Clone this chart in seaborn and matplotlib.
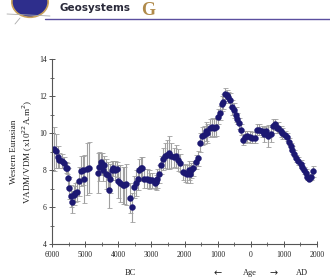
import matplotlib
matplotlib.use("Agg")
import matplotlib.pyplot as plt
from matplotlib.ticker import MultipleLocator, FuncFormatter
from matplotlib.patches import Circle
import seaborn as sns
import pandas as pd

# Age (negative = BC) and field intensity
age = [-5960, -5900, -5840, -5790, -5720, -5660, -5600, -5560, -5530, -5480,
       -5440, -5400, -5350, -5300, -5250, -5200, -5130, -5080, -5030, -4960,
       -4900, -4620, -4580, -4540, -4500, -4480, -4430, -4380, -4330, -4300,
       -4270, -4200, -4150, -4100, -4050, -4000, -3950, -3870, -3820, -3760,
       -3640, -3580, -3520, -3470, -3420, -3380, -3330, -3280, -3230, -3150,
       -3080, -3030, -2970, -2900, -2870, -2820, -2780, -2720, -2650, -2590,
       -2530, -2470, -2400, -2330, -2270, -2200, -2140, -2060, -2000, -1940,
       -1880, -1840, -1790, -1740, -1660, -1590, -1540, -1480, -1410, -1360,
       -1310, -1240, -1180, -1110, -1040, -990, -930, -880, -830, -780,
       -730, -680, -630, -570, -510, -450, -400, -340, -280, -230,
       -180, -100, -20, 50, 120, 190, 260, 330, 390, 460,
       530, 610, 680, 730, 790, 840, 910, 960, 1030, 1090,
       1160, 1210, 1260, 1310, 1380, 1440, 1510, 1560, 1610, 1660,
       1710, 1760, 1810, 1880]
vadm = [9.15, 9.05, 8.7, 8.55, 8.5, 8.4, 8.15, 8.1, 7.6, 7.05,
        6.6, 6.3, 6.65, 6.8, 6.85, 7.4, 7.95, 8.0, 7.55, 8.05,
        8.15, 7.85, 8.2, 8.45, 8.35, 8.0, 8.3, 7.8, 7.75, 6.95,
        7.55, 8.0, 8.1, 8.0, 8.05, 7.4, 7.3, 7.2, 7.2, 7.25,
        6.5, 6.0, 7.1, 7.3, 7.55, 8.0, 8.1, 8.1, 7.55, 7.55,
        7.5, 7.45, 7.45, 7.3, 7.35, 7.55, 7.8, 8.3, 8.6, 8.8,
        8.85, 8.95, 8.8, 8.7, 8.75, 8.55, 8.4, 7.9, 7.85, 7.8,
        8.0, 7.8, 8.0, 8.1, 8.45, 8.65, 9.5, 9.85, 9.9, 10.1,
        10.0, 10.3, 10.35, 10.3, 10.35, 10.9, 11.1, 11.6, 11.7, 12.15,
        12.05, 11.95, 11.8, 11.4, 11.25, 11.0, 10.8, 10.55, 10.2, 9.65,
        9.8, 9.85, 9.8, 9.75, 9.75, 10.2, 10.2, 10.1, 9.95, 10.1,
        9.85, 9.95, 10.4, 10.5, 10.3, 10.3, 10.1, 10.0, 9.9, 9.8,
        9.55, 9.3, 9.1, 8.9, 8.65, 8.5, 8.35, 8.2, 8.0, 7.85,
        7.65, 7.55, 7.65, 7.95]
err = [1.2, 0.9, 0.6, 0.4, 0.4, 0.3, 0.3, 0.3, 0.5, 0.6,
       0.6, 0.6, 0.5, 0.5, 0.5, 0.8, 0.8, 0.8, 1.3, 1.4,
       1.4, 1.1, 0.8, 0.5, 0.6, 0.6, 0.5, 0.8, 0.7, 1.0,
       0.8, 0.5, 0.4, 0.5, 0.4, 0.9, 1.0, 1.0, 1.0, 1.1,
       0.8, 0.8, 0.6, 0.7, 0.6, 0.6, 0.6, 0.6, 0.5, 0.5,
       0.5, 0.4, 0.4, 0.3, 0.4, 0.5, 0.5, 0.5, 0.6, 0.7,
       0.8, 0.9, 0.7, 0.5, 0.6, 0.6, 0.5, 0.4, 0.5, 0.5,
       0.5, 0.5, 0.4, 0.4, 0.4, 0.4, 0.5, 0.5, 0.5, 0.5,
       0.5, 0.5, 0.5, 0.5, 0.5, 0.4, 0.4, 0.4, 0.4, 0.3,
       0.3, 0.3, 0.4, 0.4, 0.4, 0.4, 0.3, 0.3, 0.3, 0.3,
       0.3, 0.3, 0.3, 0.3, 0.3, 0.3, 0.3, 0.3, 0.4, 0.3,
       0.6, 0.4, 0.4, 0.3, 0.3, 0.3, 0.3, 0.3, 0.2, 0.2,
       0.2, 0.2, 0.2, 0.2, 0.2, 0.2, 0.2, 0.2, 0.2, 0.2,
       0.15, 0.15, 0.15, 0.3]

df = pd.DataFrame({"age": age, "vadm": vadm, "err": err})

sns.set_theme(style="ticks")
plt.rcParams["font.family"] = ["Liberation Serif", "DejaVu Serif"]

fig = plt.figure(figsize=(3.3, 2.78), dpi=100)
ax = fig.add_axes([0.1585, 0.1212, 0.8015, 0.6655])

ax.errorbar(df["age"], df["vadm"], yerr=df["err"], fmt="none",
            ecolor="#a0a0a0", elinewidth=0.8, capsize=1.8, capthick=0.6, zorder=1)
sns.scatterplot(data=df, x="age", y="vadm", ax=ax, color="#1c1872",
                s=18, edgecolor="#1c1872", linewidth=0.3, zorder=2, legend=False)

ax.set_xlim(-6000, 2000)
ax.set_ylim(4, 14)
ax.xaxis.set_major_locator(MultipleLocator(1000))
ax.xaxis.set_minor_locator(MultipleLocator(500))
ax.yaxis.set_major_locator(MultipleLocator(2))
ax.yaxis.set_minor_locator(MultipleLocator(1))
ax.xaxis.set_major_formatter(FuncFormatter(lambda v, p: f"{abs(int(v))}"))
ax.tick_params(which="major", direction="inout", length=5, width=0.7,
               color="#555555", labelsize=5.5, pad=1.5, labelcolor="#222222")
ax.tick_params(axis="x", which="major", pad=2.5)
ax.tick_params(which="minor", direction="inout", length=2.5, width=0.6, color="#555555")
for s in ["top", "right"]:
    ax.spines[s].set_visible(False)
for s in ["left", "bottom"]:
    ax.spines[s].set_color("#555555")
    ax.spines[s].set_linewidth(0.8)
ax.set_xlabel("")
ax.set_ylabel("Western Eurasian\nVADM/VDM (x10$^{22}$A.m$^2$)", fontsize=6.6,
              color="#222222", linespacing=1.3, labelpad=3)

# Axis annotations below the ticks
fig.text(130 / 330, 1 - 273 / 278, "BC", ha="center", va="center", fontsize=6, color="#222222")
fig.text(218 / 330, 1 - 273 / 278, "\u2190", ha="center", va="center", fontsize=7,
         color="#222222", family=["DejaVu Sans"])
fig.text(250 / 330, 1 - 273 / 278, "Age", ha="center", va="center", fontsize=6, color="#222222")
fig.text(274 / 330, 1 - 273 / 278, "\u2192", ha="center", va="center", fontsize=7,
         color="#222222", family=["DejaVu Sans"])
fig.text(302 / 330, 1 - 273 / 278, "AD", ha="center", va="center", fontsize=6, color="#222222")

# Journal header
fig.add_artist(plt.Line2D([45 / 330, 1.0], [1 - 18.5 / 278] * 2, color="#5b4f9f", lw=1.0))
fig.text(60 / 330, 1 - 11 / 278, "Geosystems", ha="left", va="baseline", fontsize=7.5,
         fontweight="bold", color="#2a2a3a", family=["DejaVu Sans"])
fig.text(141 / 330, 1 - 15 / 278, "G", ha="left", va="baseline", fontsize=13,
         fontweight="bold", color="#b08a4a")
fig.add_artist(Circle((30 / 330, 1 - 2 / 278), 0.055, transform=fig.transFigure,
                      facecolor="#2e2e8c", edgecolor="#c9a15a", lw=1.2))
fig.add_artist(plt.Line2D([7 / 330, 50 / 330], [1 - 14 / 278, 1 - 16 / 278], color="#aaaaaa", lw=0.6))
fig.add_artist(plt.Line2D([20 / 330, 15 / 330], [1 - 18 / 278, 1 - 24 / 278], color="#aaaaaa", lw=0.6))

fig.savefig("out.png", dpi=100)
